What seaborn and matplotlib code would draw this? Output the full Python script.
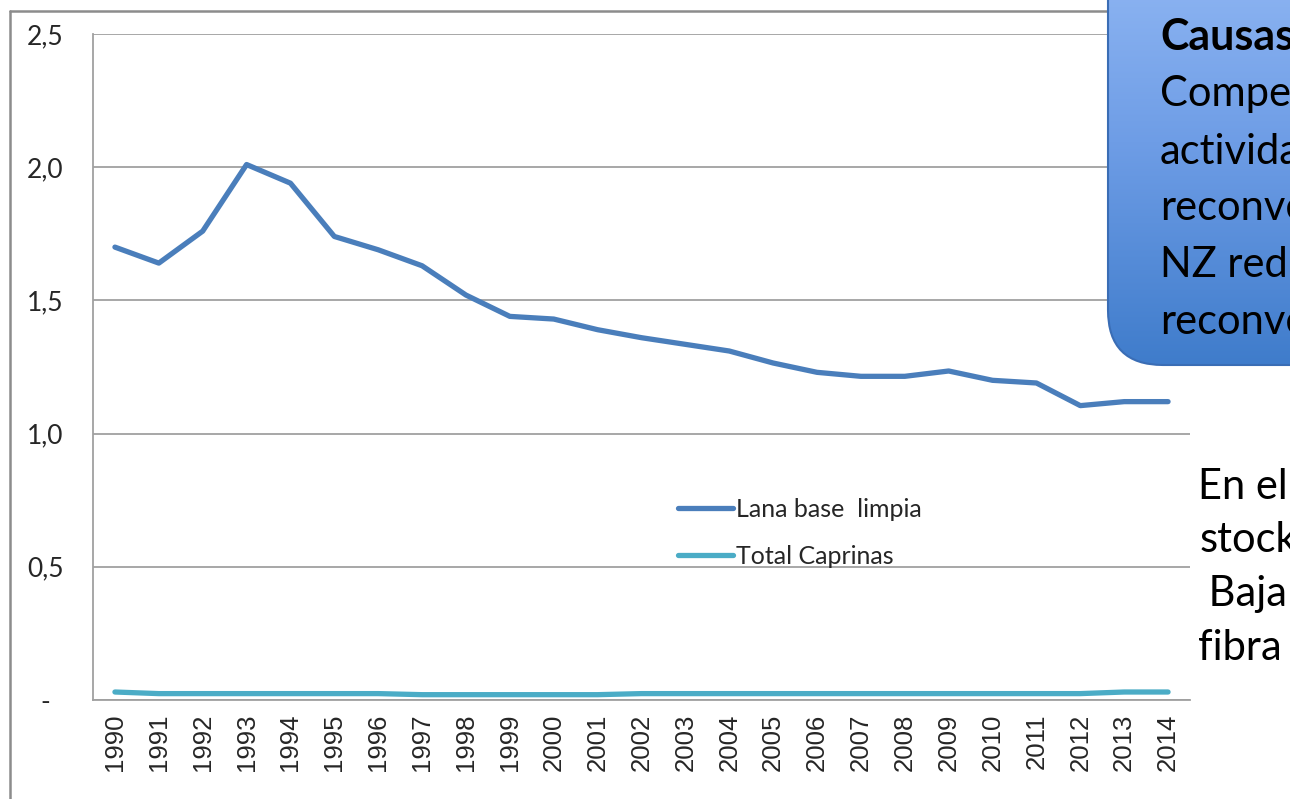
import numpy as np
import pandas as pd
import seaborn as sns
import matplotlib.pyplot as plt
from matplotlib.patches import FancyBboxPatch
from matplotlib.colors import LinearSegmentedColormap
from matplotlib.ticker import FixedLocator

years = list(range(1990, 2015))
lana = [1.70, 1.64, 1.76, 2.01, 1.94, 1.74, 1.69, 1.63, 1.52, 1.44, 1.43, 1.39, 1.36,
        1.335, 1.31, 1.265, 1.23, 1.215, 1.215, 1.235, 1.20, 1.19, 1.105, 1.12, 1.12]
caprinas = [0.030, 0.024, 0.024, 0.024, 0.024, 0.024, 0.024, 0.020, 0.020, 0.020, 0.020, 0.020, 0.024,
            0.024, 0.024, 0.024, 0.024, 0.024, 0.024, 0.024, 0.024, 0.024, 0.024, 0.030, 0.030]
series = ["Lana base  limpia", "Total Caprinas"]
y_ticks = [0, 0.5, 1.0, 1.5, 2.0, 2.5]
y_labels = ["-  ", "0,5", "1,0", "1,5", "2,0", "2,5"]
box_lines = ["Causas:", "Competencia de otras", "actividades,", "reconversión", "NZ redujo stock por", "reconversión"]
side_lines = ["En el", "stock", " Baja", "fibra"]

df = pd.DataFrame({
    "Año": years * 2,
    "valor": lana + caprinas,
    "serie": [series[0]] * len(years) + [series[1]] * len(years),
})

sns.set_style("white")
plt.rcParams["font.family"] = ["Lato", "DejaVu Sans"]

W, H = 1290, 799
fig = plt.figure(figsize=(W / 100, H / 100), dpi=100)
ax = fig.add_axes([93 / W, 1 - 700 / H, (1190 - 93) / W, (700 - 34) / H])

sns.lineplot(data=df, x="Año", y="valor", hue="serie", palette=["#4a7ebb", "#4bacc6"],
             linewidth=3.8, ax=ax)

gray = "#a0a0a0"
ax.set_xlim(1989.5, 2014.5)
ax.set_ylim(0, 2.5)
ax.set_xlabel("")
ax.set_ylabel("")
ax.set_yticks(y_ticks)
ax.set_yticklabels(y_labels, fontsize=19)
ax.xaxis.set_major_locator(FixedLocator(years))
ax.set_xticklabels([str(y) for y in years], rotation=90, fontsize=18.5, family="Liberation Sans")
ax.xaxis.set_minor_locator(FixedLocator([y - 0.5 for y in years] + [2014.5]))
ax.tick_params(axis="x", which="major", length=0, pad=10)
ax.tick_params(axis="x", which="minor", length=7, width=1.3, color=gray, direction="out")
ax.tick_params(axis="y", length=7, width=1.3, color=gray, direction="out", pad=14)
ax.grid(axis="y", color=gray, linewidth=1.3)
for side in ["top", "right"]:
    ax.spines[side].set_visible(False)
for side in ["left", "bottom"]:
    ax.spines[side].set_color(gray)
    ax.spines[side].set_linewidth(1.3)

sns.move_legend(ax, "center left", bbox_to_anchor=((678 - 93) / 1097, (700 - 533) / 666),
                frameon=False, title=None, fontsize=18, handlelength=2.2,
                handletextpad=0.1, labelspacing=0.95, borderpad=0, borderaxespad=0)

# overlay in pixel coordinates
ov = fig.add_axes([0, 0, 1, 1], zorder=10)
ov.set_xlim(0, W)
ov.set_ylim(H, 0)
ov.axis("off")
ov.patch.set_alpha(0)

ov.plot([10, 10], [11, 830], color="#8c8c8c", linewidth=1.8)
ov.plot([10, 1300], [11, 11], color="#8c8c8c", linewidth=1.8)

box = FancyBboxPatch((1108, -80), 320, 445, boxstyle="round,pad=0,rounding_size=55",
                     facecolor="none", edgecolor="#3a6db5", linewidth=1.5, zorder=3)
ov.add_patch(box)
cmap = LinearSegmentedColormap.from_list("box", ["#97bcf6", "#6e9de6", "#3f7ccb"])
grad = np.linspace(0, 1, 256).reshape(-1, 1)
img = ov.imshow(grad, cmap=cmap, extent=[1108, 1428, 365, -80], aspect="auto", zorder=2)
img.set_clip_path(box)
ov.set_xlim(0, W)
ov.set_ylim(H, 0)

for i, line in enumerate(box_lines):
    ov.text(1160, 37 + i * 57.0, line, fontsize=31 if i == 0 else 30, va="center", ha="left",
            fontweight="bold" if i == 0 else "normal", color="black", zorder=4)

side_x = [1198, 1200, 1198, 1198]
for i, line in enumerate(side_lines):
    ov.text(side_x[i], 487 + i * 53.5, line, fontsize=30, va="center", ha="left", color="black")

fig.savefig("out.png", dpi=100)
